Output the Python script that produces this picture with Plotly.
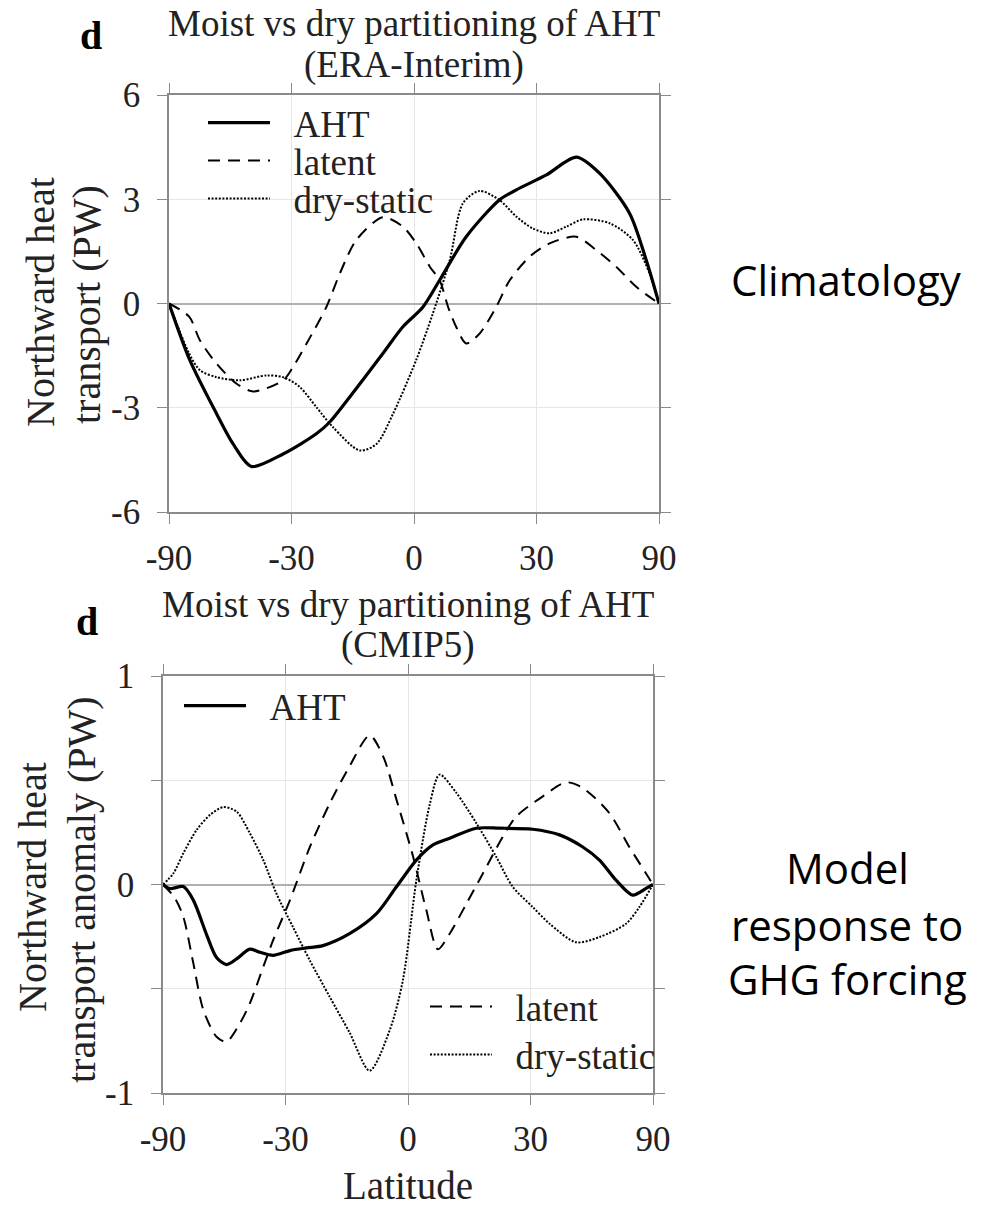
import numpy as np
import plotly.graph_objects as go

# ---------------- data ----------------
lat_ticks = [-90, -30, 0, 30, 90]
lat_tick_labels = ["-90", "-30", "0", "30", "90"]

# ERA-Interim climatology (PW)
era_aht_lat = [-90, -66.2, -53.7, -47.6, -41.6, -32.3, -23.5, -20.1, -15.2, -7.3, -2.6, 2.1, 6.0,
               12.3, 20.4, 24.7, 32.7, 41.5, 49.2, 61.6, 71.4, 90]
era_aht = [0, -1.63, -3.17, -4.04, -4.69, -4.33, -3.75, -3.41, -2.69, -1.44, -0.67, -0.10, 0.67,
           1.92, 2.98, 3.27, 3.70, 4.21, 3.75, 2.60, 1.25, 0]

era_lat_lat = [-90, -66.6, -60.9, -53.7, -46.4, -41.0, -32.3, -29.6, -26.0, -20.95, -17.6, -13.6,
               -7.3, -2.6, 0.55, 3.7, 6.0, 8.0, 9.9, 12.3, 15.5, 19.6, 23.0, 28.2, 33.6, 41.5,
               48.0, 55.6, 65.1, 90]
era_latent = [0, -0.38, -1.06, -1.73, -2.31, -2.53, -2.21, -1.83, -1.15, -0.10, 0.87, 1.83,
              2.48, 2.21, 1.73, 1.06, 0.67, -0.10, -0.67, -1.15, -0.87, -0.10, 0.67, 1.35, 1.73,
              1.92, 1.54, 1.06, 0.48, 0]

era_dry_lat = [-90, -66.6, -60.9, -53.7, -45.3, -37.0, -32.3, -27.8, -23.5, -19.3, -12.8, -8.8,
               -4.9, 0.5, 4.4, 8.4, 11.5, 15.5, 20.4, 24.7, 29.0, 33.6, 38.4, 43.6, 53.0, 63.3,
               74.0, 90]
era_dry = [0, -1.44, -1.92, -2.12, -2.21, -2.07, -2.12, -2.40, -2.98, -3.56, -4.23, -4.04,
           -3.17, -1.63, -0.29, 1.25, 2.88, 3.24, 2.98, 2.50, 2.16, 2.02, 2.21, 2.42, 2.31, 1.83,
           0.87, 0]

# CMIP5 response to GHG forcing (PW anomaly)
cm_aht_lat = [-90, -76.3, -66.5, -61.2, -55.3, -51.4, -47.8, -44.4, -40.2, -37.2, -33.4, -28.8,
              -24.5, -20.3, -13.8, -7.4, -2.7, 1.95, 5.85, 9.8, 16.2, 21.9, 30.6, 38.2, 45.5,
              51.4, 58.1, 66.5, 76.3, 90]
cm_aht = [0, -0.02, -0.01, -0.075, -0.24, -0.35, -0.384, -0.357, -0.31, -0.325, -0.34, -0.317,
          -0.304, -0.293, -0.236, -0.14, -0.011, 0.117, 0.19, 0.222, 0.27, 0.27, 0.265, 0.238,
          0.18, 0.117, 0.021, -0.051, -0.019, 0]

cm_lat_lat = [-90, -72.0, -66.5, -61.2, -56.7, -51.4, -47.8, -43.3, -40.2, -36.2, -33.4, -28.8,
              -23.6, -18.6, -13.8, -9.0, -5.85, -2.7, 1.2, 4.3, 7.0, 9.8, 13.8, 17.8, 22.8, 26.2,
              33.4, 40.2, 45.5, 55.3, 64.6, 76.3, 90]
cm_latent = [0, -0.066, -0.155, -0.377, -0.60, -0.73, -0.754, -0.665, -0.57, -0.395, -0.267,
             -0.075, 0.18, 0.39, 0.567, 0.715, 0.616, 0.407, 0.133, -0.124, -0.311, -0.236,
             -0.092, 0.053, 0.23, 0.326, 0.423, 0.49, 0.463, 0.342, 0.18, 0.053, 0]

cm_dry_lat = [-90, -73.3, -66.5, -59.6, -53.9, -48.9, -44.4, -40.2, -36.2, -32.5, -28.0, -23.6,
              -18.6, -13.8, -9.0, -4.3, -1.2, 1.95, 5.05, 7.4, 11.4, 16.2, 21.1, 25.3, 30.6,
              35.3, 43.3, 51.4, 62.9, 70.8, 90]
cm_dry = [0, 0.053, 0.15, 0.262, 0.334, 0.371, 0.35, 0.246, 0.117, -0.043, -0.204, -0.365,
          -0.54, -0.71, -0.893, -0.70, -0.46, 0.02, 0.38, 0.527, 0.439, 0.294, 0.133, -0.011,
          -0.108, -0.188, -0.277, -0.252, -0.188, -0.108, 0]

# ---------------- helpers ----------------
W, H = 989, 1210
SERIF = "Liberation Serif"
SANS = "Open Sans"
GAP = "\u00a0\u00a0"


def fx(p):
    return p / W


def fy(p):
    return 1 - p / H


def sinlat(lat):
    return np.sin(np.deg2rad(np.asarray(lat, dtype=float)))


AXC = "#8a8a8a"
GRIDC = "#e6e6e6"

fig = go.Figure()

styles = {
    "AHT": dict(color="black", width=3.2, dash="solid"),
    "latent": dict(color="black", width=2, dash="12px,8px"),
    "dry-static": dict(color="black", width=2, dash="2px,1.6px"),
}

top_series = [("AHT", era_aht_lat, era_aht, "legend"),
              ("latent", era_lat_lat, era_latent, "legend2"),
              ("dry-static", era_dry_lat, era_dry, "legend3")]
bot_series = [("AHT", cm_aht_lat, cm_aht, "legend4"),
              ("latent", cm_lat_lat, cm_latent, "legend5"),
              ("dry-static", cm_dry_lat, cm_dry, "legend6")]

for name, la, v, lg in top_series:
    fig.add_trace(go.Scatter(x=sinlat(la), y=v, mode="lines", name=GAP + name, legend=lg,
                             showlegend=True,
                             line=dict(shape="spline", smoothing=0.8, **styles[name]),
                             xaxis="x", yaxis="y"))
for name, la, v, lg in bot_series:
    fig.add_trace(go.Scatter(x=sinlat(la), y=v, mode="lines", name=GAP + name, legend=lg,
                             showlegend=True,
                             line=dict(shape="spline", smoothing=0.8, **styles[name]),
                             xaxis="x2", yaxis="y2"))

tickfont = dict(family=SERIF, size=35, color="#222")


def xax(domain, anchor):
    return dict(domain=domain, anchor=anchor, range=[-1, 1], tickmode="array",
                tickvals=list(sinlat(lat_ticks)), ticktext=lat_tick_labels,
                ticks="outside", ticklen=10, tickcolor=AXC, tickwidth=1.3,
                showline=True, linecolor=AXC, linewidth=1.5, mirror="ticks",
                showgrid=True, gridcolor=GRIDC, gridwidth=1, zeroline=False,
                tickfont=tickfont, ticklabelstandoff=4, fixedrange=True, automargin=False)


def yax(domain, anchor, rng, vals, texts):
    return dict(domain=domain, anchor=anchor, range=rng, tickmode="array",
                tickvals=vals, ticktext=texts,
                ticks="outside", ticklen=10, tickcolor=AXC, tickwidth=1.3,
                showline=True, linecolor=AXC, linewidth=1.5, mirror="ticks",
                showgrid=True, gridcolor=GRIDC, gridwidth=1,
                zeroline=True, zerolinecolor="#b0b0b0", zerolinewidth=1.5,
                tickfont=tickfont, ticklabelstandoff=10, fixedrange=True, automargin=False)


legfont = dict(family=SERIF, size=37, color="#222")


def leg(x, y):
    return dict(x=fx(x), y=fy(y), xanchor="left", yanchor="middle", xref="paper", yref="paper",
                bgcolor="rgba(0,0,0,0)", borderwidth=0, font=legfont, itemwidth=62,
                tracegroupgap=0, visible=True)


fig.update_layout(
    width=W, height=H, margin=dict(l=0, r=0, t=0, b=0, pad=0, autoexpand=False),
    paper_bgcolor="white", plot_bgcolor="white", showlegend=True,
    xaxis=xax([169 / W, 659 / W], "y"),
    yaxis=yax([fy(512), fy(95)], "x", [-6, 6], [-6, -3, 0, 3, 6], ["-6", "-3", "0", "3", "6"]),
    xaxis2=xax([163 / W, 653 / W], "y2"),
    yaxis2=yax([fy(1093), fy(676)], "x2", [-1, 1], [-1, -0.5, 0, 0.5, 1], ["-1", "", "0", "", "1"]),
    legend=leg(203, 123),
    legend2=leg(203, 161),
    legend3=leg(203, 199),
    legend4=leg(179, 706),
    legend5=leg(425, 1007),
    legend6=leg(425, 1055),
)


def ann(text, x, y, size, family=SERIF, bold=False, angle=0, color="#222"):
    t = "<b>%s</b>" % text if bold else text
    fig.add_annotation(text=t, x=fx(x), y=fy(y), xref="paper", yref="paper",
                       xanchor="center", yanchor="middle", showarrow=False, textangle=angle,
                       font=dict(family=family, size=size, color=color))


# titles
ann("Moist vs dry partitioning of AHT", 414, 24, 37)
ann("(ERA-Interim)", 414, 65, 37)
ann("Moist vs dry partitioning of AHT", 408, 604, 37)
ann("(CMIP5)", 408, 645, 37)
ann("d", 91, 36, 40, bold=True, color="black")
ann("d", 87, 621, 40, bold=True, color="black")

# y-axis titles
ann("Northward heat", 40, 302, 40, angle=-90)
ann("transport (PW)", 87, 305, 40, angle=-90)
ann("Northward heat", 32, 887, 40, angle=-90)
ann("transport anomaly (PW)", 81, 890, 40, angle=-90)

# x-axis title
ann("Latitude", 408, 1185, 39)

# side labels
ann("Climatology", 846, 279, 42, family=SANS, color="black")
ann("Model", 847, 867, 42, family=SANS, color="black")
ann("response to", 847, 924, 42, family=SANS, color="black")
ann("GHG forcing", 847, 978, 42, family=SANS, color="black")

fig.write_html("out.html")
